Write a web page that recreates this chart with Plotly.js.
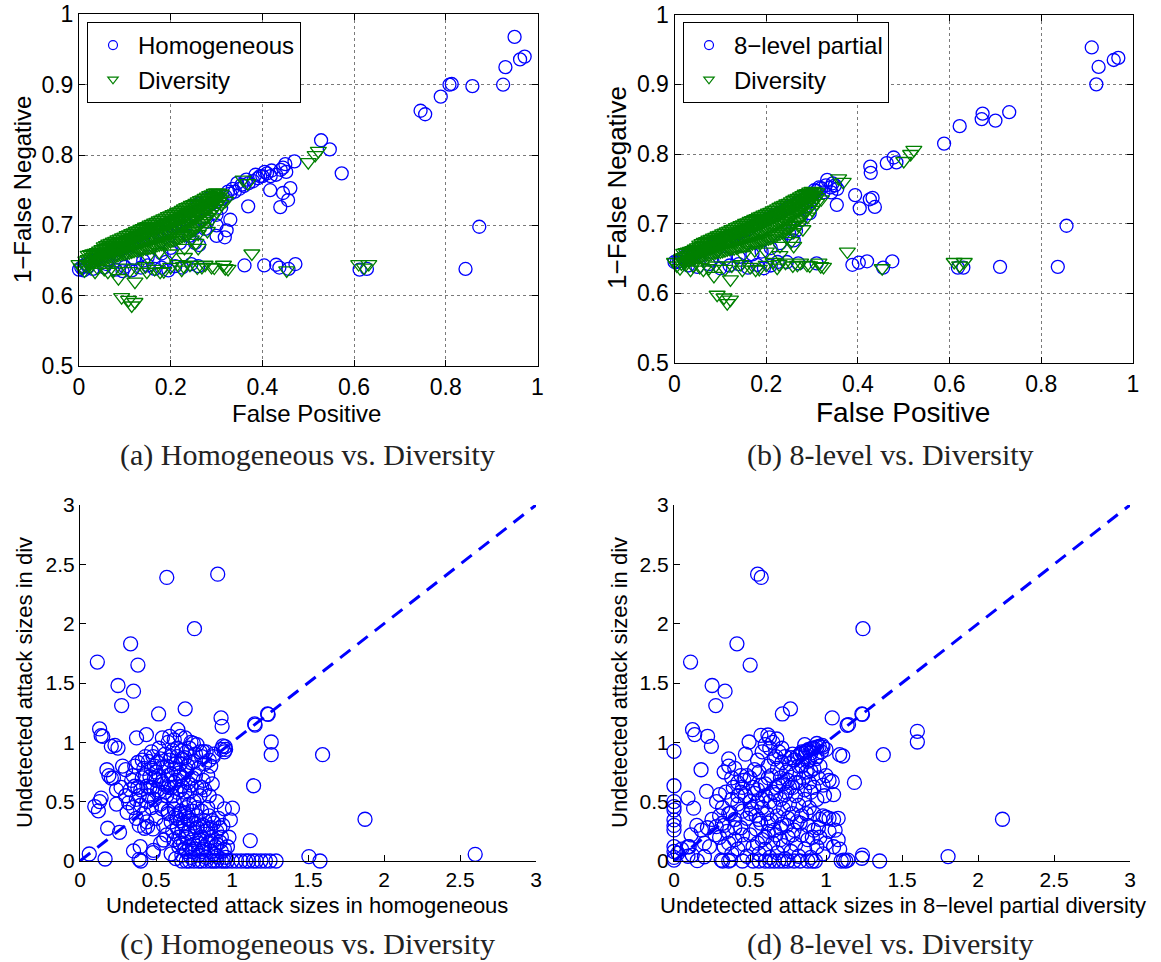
<!DOCTYPE html>
<html>
<head>
<meta charset="utf-8">
<script src="https://cdn.plot.ly/plotly-3.0.1.min.js"></script>
<style>html,body{margin:0;padding:0;background:#fff;}#chart{width:1161px;height:962px;}</style>
</head>
<body>
<div id="chart"></div>
<script>
// ---------- DATA ----------
// (a) False positive vs 1-False negative, homogeneous
const homA = [
[0.950,0.968],[0.930,0.925],[0.962,0.936],[0.972,0.940],[0.925,0.900],[0.858,0.898],[0.808,0.900],[0.813,0.901],[0.789,0.883],[0.745,0.863],[0.755,0.858],
[0.528,0.821],[0.547,0.808],[0.573,0.774],[0.873,0.698],[0.843,0.638],[0.612,0.637],[0.628,0.638],
[0.472,0.645],[0.457,0.638],[0.437,0.640],[0.430,0.644],[0.404,0.643],[0.361,0.643],
[0.470,0.791],[0.450,0.787],[0.445,0.782],[0.440,0.779],[0.452,0.776],[0.430,0.772],[0.418,0.770],[0.405,0.776],[0.395,0.770],
[0.461,0.753],[0.445,0.746],[0.456,0.736],[0.439,0.726],[0.417,0.750],[0.369,0.727],[0.330,0.708],[0.322,0.693],[0.318,0.683],[0.300,0.700],[0.300,0.685],[0.262,0.672],[0.275,0.695],[0.253,0.675],
[0.000,0.637],[0.005,0.640],[0.010,0.642],[0.015,0.645],[0.020,0.641],[0.025,0.648],[0.030,0.650],[0.040,0.652],[0.050,0.655],[0.060,0.658],[0.070,0.661],[0.080,0.660],[0.090,0.666],[0.100,0.668],[0.110,0.672],[0.120,0.674],[0.130,0.677],[0.140,0.680],[0.150,0.682],[0.160,0.686],[0.170,0.690],[0.180,0.692],[0.190,0.695],[0.200,0.699],[0.210,0.702],[0.220,0.706],[0.230,0.709],[0.240,0.713],[0.250,0.716],[0.260,0.720],[0.270,0.724],[0.280,0.727],[0.290,0.731],[0.300,0.734],[0.310,0.737],[0.320,0.741],[0.330,0.745],[0.340,0.748],[0.350,0.752],[0.360,0.756],[0.370,0.760],[0.380,0.763],[0.390,0.767],[0.400,0.770],[0.410,0.774],[0.420,0.778],[0.355,0.758],[0.345,0.760],[0.365,0.765],[0.335,0.752],[0.325,0.748],[0.385,0.772],[0.300,0.742],[0.280,0.738],[0.260,0.730],
[0.310,0.725],[0.300,0.715],[0.280,0.705],[0.250,0.695],[0.240,0.685],[0.220,0.675],[0.200,0.668],[0.180,0.660],[0.150,0.655],[0.120,0.652],[0.090,0.648],[0.060,0.645],
[0.010,0.636],[0.030,0.638],[0.055,0.640],[0.080,0.637],[0.100,0.641],[0.115,0.636],[0.135,0.640],[0.150,0.643],[0.165,0.638],[0.180,0.640],[0.195,0.636],[0.210,0.642],[0.225,0.640],[0.245,0.645],[0.260,0.642],[0.095,0.635],[0.060,0.650],[0.140,0.650],[0.190,0.648]
];
// (b) 8-level partial diversity
const levB = [
[0.910,0.953],[0.925,0.925],[0.958,0.935],[0.968,0.938],[0.920,0.900],[0.730,0.860],[0.700,0.848],[0.672,0.858],[0.670,0.850],[0.622,0.840],[0.588,0.815],
[0.427,0.782],[0.428,0.773],[0.463,0.787],[0.478,0.795],[0.484,0.788],
[0.855,0.697],[0.836,0.638],[0.710,0.638],[0.618,0.637],[0.630,0.637],
[0.475,0.646],[0.455,0.637],[0.420,0.646],[0.402,0.644],[0.388,0.641],
[0.333,0.763],[0.350,0.755],[0.355,0.750],[0.342,0.745],[0.394,0.741],[0.354,0.727],[0.426,0.735],[0.437,0.724],[0.404,0.722],[0.432,0.737],
[0.310,0.643],[0.270,0.643],[0.245,0.645],[0.005,0.645],[0.019,0.652],[0.030,0.640],[0.050,0.638],[0.075,0.642],[0.100,0.636],[0.120,0.640],[0.140,0.642],[0.160,0.637],[0.180,0.641],[0.195,0.636],[0.210,0.640],[0.225,0.645],
[0.260,0.676],[0.250,0.686],[0.230,0.672],[0.265,0.690],[0.210,0.665],[0.190,0.660],[0.170,0.656],[0.140,0.652],[0.110,0.650],[0.080,0.648],[0.275,0.705],[0.295,0.715],
[0.000,0.645],[0.010,0.646],[0.020,0.649],[0.030,0.652],[0.040,0.655],[0.050,0.658],[0.060,0.661],[0.070,0.664],[0.080,0.667],[0.090,0.670],[0.100,0.673],[0.110,0.676],[0.120,0.679],[0.130,0.682],[0.140,0.686],[0.150,0.689],[0.160,0.692],[0.170,0.696],[0.180,0.699],[0.190,0.702],[0.200,0.706],[0.210,0.709],[0.220,0.713],[0.230,0.716],[0.240,0.720],[0.250,0.724],[0.260,0.727],[0.270,0.731],[0.280,0.735],[0.290,0.739],[0.300,0.743],[0.310,0.747],[0.320,0.751],[0.330,0.755],[0.340,0.752],[0.315,0.752],[0.305,0.748],[0.345,0.758],[0.325,0.745],[0.300,0.735],[0.285,0.725],[0.270,0.720]
];
// (a)/(b) full diversity (same series in both panels)
const divAB = [
[0.02,0.645],[0.02,0.652],[0.02,0.658],[0.03,0.648],[0.03,0.655],[0.03,0.660],[0.04,0.650],[0.04,0.657],[0.04,0.662],[0.05,0.652],[0.05,0.660],[0.05,0.666],
[0.06,0.654],[0.06,0.662],[0.06,0.668],[0.06,0.672],[0.07,0.656],[0.07,0.664],[0.07,0.670],[0.07,0.675],[0.08,0.657],[0.08,0.666],[0.08,0.673],[0.08,0.678],
[0.09,0.659],[0.09,0.668],[0.09,0.676],[0.09,0.681],[0.10,0.660],[0.10,0.670],[0.10,0.678],[0.10,0.684],[0.11,0.662],[0.11,0.672],[0.11,0.680],[0.11,0.687],
[0.12,0.664],[0.12,0.674],[0.12,0.683],[0.12,0.690],[0.13,0.665],[0.13,0.676],[0.13,0.686],[0.13,0.693],[0.14,0.667],[0.14,0.678],[0.14,0.688],[0.14,0.696],
[0.15,0.668],[0.15,0.680],[0.15,0.691],[0.15,0.699],[0.16,0.670],[0.16,0.683],[0.16,0.694],[0.16,0.702],[0.17,0.672],[0.17,0.685],[0.17,0.696],[0.17,0.705],
[0.18,0.674],[0.18,0.688],[0.18,0.699],[0.18,0.708],[0.19,0.676],[0.19,0.690],[0.19,0.702],[0.19,0.711],[0.20,0.678],[0.20,0.693],[0.20,0.705],[0.20,0.714],
[0.21,0.680],[0.21,0.696],[0.21,0.708],[0.21,0.717],[0.22,0.683],[0.22,0.699],[0.22,0.711],[0.22,0.720],[0.23,0.686],[0.23,0.702],[0.23,0.714],[0.23,0.724],
[0.24,0.690],[0.24,0.706],[0.24,0.718],[0.24,0.727],[0.25,0.694],[0.25,0.710],[0.25,0.722],[0.25,0.730],[0.26,0.700],[0.26,0.714],[0.26,0.726],[0.26,0.734],
[0.27,0.706],[0.27,0.719],[0.27,0.730],[0.27,0.737],[0.28,0.712],[0.28,0.724],[0.28,0.734],[0.28,0.741],[0.29,0.720],[0.29,0.730],[0.29,0.738],[0.29,0.744],
[0.30,0.728],[0.30,0.736],[0.30,0.742],[0.30,0.747],[0.31,0.738],[0.31,0.745],
[0.015,0.643],[0.015,0.650],[0.025,0.646],[0.025,0.653],[0.025,0.659],[0.035,0.649],[0.035,0.656],[0.035,0.661],[0.045,0.651],[0.045,0.658],[0.045,0.664],
[0.055,0.653],[0.055,0.661],[0.055,0.667],[0.055,0.670],[0.065,0.655],[0.065,0.663],[0.065,0.669],[0.065,0.674],[0.075,0.656],[0.075,0.665],[0.075,0.672],[0.075,0.677],
[0.085,0.658],[0.085,0.667],[0.085,0.675],[0.085,0.680],[0.095,0.660],[0.095,0.669],[0.095,0.677],[0.095,0.683],[0.105,0.661],[0.105,0.671],[0.105,0.679],[0.105,0.686],
[0.115,0.663],[0.115,0.673],[0.115,0.682],[0.115,0.689],[0.125,0.665],[0.125,0.675],[0.125,0.685],[0.125,0.692],[0.135,0.666],[0.135,0.677],[0.135,0.687],[0.135,0.695],
[0.145,0.668],[0.145,0.679],[0.145,0.690],[0.145,0.698],[0.155,0.669],[0.155,0.682],[0.155,0.693],[0.155,0.701],[0.165,0.671],[0.165,0.684],[0.165,0.695],[0.165,0.704],
[0.175,0.673],[0.175,0.687],[0.175,0.698],[0.175,0.707],[0.185,0.675],[0.185,0.689],[0.185,0.701],[0.185,0.710],[0.195,0.677],[0.195,0.692],[0.195,0.704],[0.195,0.713],
[0.205,0.679],[0.205,0.695],[0.205,0.707],[0.205,0.716],[0.215,0.682],[0.215,0.698],[0.215,0.710],[0.215,0.719],[0.225,0.685],[0.225,0.701],[0.225,0.713],[0.225,0.722],
[0.235,0.688],[0.235,0.704],[0.235,0.716],[0.235,0.726],[0.245,0.692],[0.245,0.708],[0.245,0.720],[0.245,0.729],[0.255,0.697],[0.255,0.712],[0.255,0.724],[0.255,0.732],
[0.265,0.703],[0.265,0.717],[0.265,0.728],[0.265,0.736],[0.275,0.709],[0.275,0.722],[0.275,0.732],[0.275,0.739],[0.285,0.716],[0.285,0.727],[0.285,0.736],[0.285,0.743],
[0.295,0.724],[0.295,0.733],[0.295,0.740],[0.295,0.746],[0.305,0.733],[0.305,0.741],[0.305,0.746],
[0.000,0.645],[0.005,0.640],[0.012,0.636],[0.025,0.642],[0.035,0.634],[0.040,0.640],[0.055,0.638],[0.063,0.634],[0.075,0.636],[0.090,0.640],[0.110,0.635],[0.125,0.640],[0.148,0.634],[0.145,0.642],[0.165,0.638],[0.177,0.634],[0.185,0.635],[0.200,0.641],[0.215,0.645],[0.224,0.637],[0.228,0.642],[0.242,0.644],[0.258,0.640],[0.268,0.641],[0.275,0.644],[0.289,0.641],[0.295,0.640],[0.315,0.644],[0.319,0.639],[0.325,0.638],[0.453,0.636],[0.610,0.645],[0.622,0.640],[0.632,0.645],
[0.377,0.660],[0.500,0.790],[0.515,0.800],[0.522,0.806],[0.358,0.765],[0.368,0.760],
[0.086,0.625],[0.122,0.620],[0.093,0.598],[0.115,0.586],[0.122,0.591],[0.108,0.594],
[0.200,0.660],[0.230,0.668],[0.245,0.680],[0.260,0.688],[0.270,0.698],[0.280,0.692],[0.290,0.710],[0.300,0.720],[0.255,0.675],[0.150,0.655],[0.175,0.662],[0.310,0.730],[0.320,0.735],[0.260,0.668],[0.230,0.655]
];
// (c) undetected attack sizes: homogeneous (x) vs diversity (y)
const homC = [
[0.571,2.390],[0.906,2.417],[0.753,1.958],[0.333,1.830],[0.114,1.676],[0.381,1.651],[0.250,1.479],[0.352,1.431],[0.274,1.310],[0.517,1.239],[0.692,1.282],[0.928,1.206],[0.935,1.135],[1.149,1.155],[1.152,1.145],[1.234,1.239],[1.238,1.235],[1.258,1.003],[1.258,0.896],[1.596,0.896],[1.142,0.634],[1.875,0.352],[2.600,0.056],[1.506,0.037],[1.579,0.000],[1.120,0.172],[1.003,0.445],[0.989,0.346],
[0.129,1.113],[0.139,1.056],[0.150,1.050],[0.206,0.966],[0.250,0.952],[0.230,0.975],[0.372,1.037],[0.437,1.065],[0.542,1.037],[0.590,1.050],[0.644,1.107],[0.692,1.037],[0.177,0.769],[0.206,0.699],[0.190,0.720],[0.097,0.459],[0.121,0.423],[0.139,0.530],[0.129,0.501],[0.182,0.276],[0.260,0.242],[0.061,0.059],[0.165,0.017],[0.352,0.085],[0.389,0.014],[0.396,0.121],[0.481,0.070],[0.483,0.090],[0.425,0.276],[0.445,0.290],[0.551,0.177],
[0.746,0.991],[0.811,0.921],[0.877,0.879],[0.954,0.963],[0.958,0.940],
[0.28,0.80],[0.30,0.77],[0.27,0.62],[0.30,0.55],[0.32,0.49],[0.33,0.60],[0.35,0.72],[0.36,0.80],[0.38,0.83],[0.38,0.62],[0.39,0.55],[0.40,0.47],[0.41,0.70],[0.42,0.78],[0.43,0.88],[0.44,0.63],[0.45,0.84],[0.45,0.55],[0.46,0.71],[0.47,0.78],[0.47,0.45],[0.48,0.88],[0.48,0.62],[0.49,0.52],[0.50,0.75],[0.50,0.68],[0.51,0.83],[0.52,0.58],[0.52,0.95],[0.53,0.48],[0.35,0.45],[0.31,0.41],[0.24,0.48],[0.24,0.60],[0.22,0.70],[0.37,0.36],[0.42,0.40],[0.39,0.30],[0.44,0.33],
[0.55,0.79],[0.55,0.65],[0.56,0.90],[0.57,0.55],[0.58,0.72],[0.58,0.42],[0.59,0.85],[0.60,0.62],[0.61,0.93],[0.62,0.78],[0.62,0.50],[0.63,0.68],[0.64,0.88],[0.64,0.58],[0.65,0.40],[0.66,0.82],[0.66,0.72],[0.67,0.93],[0.67,0.63],[0.68,0.52],[0.69,0.87],[0.70,0.77],[0.70,0.45],[0.71,0.66],[0.72,0.95],[0.72,0.58],[0.73,0.83],[0.74,0.70],[0.75,0.50],[0.76,0.90],[0.77,0.62],[0.78,0.78],[0.79,0.55],[0.80,0.88],[0.81,0.68],[0.82,0.60],[0.83,0.92],[0.85,0.85],[0.86,0.80],[0.88,0.90],[0.84,0.45],[0.87,0.65],[0.90,0.50],
[0.58,1.00],[0.62,1.02],[0.73,1.00],[0.77,0.98],[0.66,1.05],[0.93,0.94],[0.94,0.97],[0.95,0.92],
[0.34,0.68],[0.36,0.63],[0.37,0.52],[0.40,0.60],[0.41,0.85],[0.43,0.72],[0.44,0.50],[0.46,0.62],[0.47,0.92],[0.49,0.80],[0.49,0.70],[0.51,0.60],[0.52,0.72],[0.53,0.86],[0.54,0.67],[0.54,0.44],[0.56,0.58],[0.57,0.80],[0.58,0.62],[0.60,0.73],[0.60,0.88],[0.61,0.55],[0.62,0.66],[0.63,0.82],[0.64,0.95],[0.65,0.74],[0.66,0.60],[0.67,0.86],[0.68,0.70],[0.69,0.58],[0.70,0.92],[0.71,0.80],[0.72,0.48],[0.73,0.64],[0.75,0.84],[0.76,0.72],[0.77,0.45],[0.79,0.92],[0.80,0.62],[0.82,0.82],[0.84,0.72],[0.85,0.55],
[0.58,0.40],[0.60,0.33],[0.61,0.25],[0.62,0.18],[0.63,0.38],[0.64,0.28],[0.65,0.12],[0.65,0.20],[0.66,0.34],[0.67,0.05],[0.67,0.25],[0.68,0.15],[0.69,0.40],[0.69,0.30],[0.70,0.08],[0.70,0.20],[0.71,0.36],[0.72,0.27],[0.72,0.12],[0.73,0.03],[0.74,0.42],[0.74,0.18],[0.75,0.32],[0.76,0.10],[0.76,0.24],[0.77,0.38],[0.78,0.15],[0.78,0.05],[0.79,0.29],[0.80,0.42],[0.80,0.20],[0.81,0.10],[0.82,0.34],[0.83,0.03],[0.83,0.25],[0.84,0.15],[0.85,0.38],[0.86,0.08],[0.86,0.28],[0.87,0.20],[0.88,0.32],[0.89,0.12],[0.90,0.04],[0.90,0.25],[0.91,0.36],[0.92,0.16],[0.93,0.08],[0.94,0.30],[0.95,0.44],[0.96,0.03],[0.97,0.12],[0.98,0.20],[0.60,0.06],[0.63,0.02],[0.66,0.15],[0.55,0.30],[0.57,0.22],[0.53,0.15],[0.50,0.36],[0.48,0.27],
[0.62,0.44],[0.64,0.36],[0.66,0.42],[0.68,0.32],[0.70,0.38],[0.71,0.24],[0.73,0.34],[0.75,0.14],[0.77,0.28],[0.79,0.18],[0.81,0.30],[0.82,0.12],[0.84,0.27],[0.86,0.17],[0.87,0.34],[0.88,0.06],[0.90,0.14],[0.92,0.28],[0.93,0.20],[0.95,0.10],[0.74,0.08],[0.69,0.10],[0.80,0.08],
[0.67,0.0],[0.70,0.0],[0.72,0.0],[0.75,0.0],[0.78,0.0],[0.80,0.0],[0.83,0.0],[0.86,0.0],[0.88,0.0],[0.90,0.0],[0.93,0.0],[0.95,0.0],[0.97,0.0],[1.00,0.0],[1.03,0.0],[1.06,0.0],[1.09,0.0],[1.11,0.0],[1.14,0.0],[1.16,0.0],[1.19,0.0],[1.22,0.0],[1.25,0.0],[1.29,0.0],[0.40,0.0]
];
// (d) undetected attack sizes: 8-level partial (x) vs diversity (y)
const levD = [
[0.550,2.417],[0.574,2.390],[1.243,1.958],[0.414,1.830],[0.109,1.676],[0.501,1.651],[0.251,1.479],[0.336,1.431],[0.275,1.310],[0.713,1.239],[0.766,1.282],[1.041,1.206],[1.139,1.144],[1.148,1.150],[1.236,1.239],[1.240,1.235],[1.601,1.093],[1.601,1.003],[1.377,0.896],[1.187,0.662],[2.161,0.352],[1.803,0.037],[1.353,0.000],[1.236,0.023],[1.240,0.050],[1.144,0.008],[1.115,0.008],[1.090,0.896],[1.110,0.885],[1.041,0.670],
[0.122,1.107],[0.136,1.065],[0.221,1.051],[0.246,0.966],[0.494,1.003],[0.572,1.059],[0.618,1.062],[0.628,1.037],[0.676,1.028],
[0.0,0.924],[0.0,0.634],[0.0,0.501],[0.0,0.459],[0.0,0.430],[0.0,0.346],[0.0,0.262],[0.0,0.300],[0.0,0.121],[0.0,0.080],[0.0,0.008],[0.0,0.030],
[0.178,0.769],[0.214,0.586],[0.092,0.530],[0.129,0.445],[0.112,0.220],[0.234,0.121],[0.153,0.003],[0.092,0.040],[0.311,0.008],[0.372,0.008],[0.319,0.318],[0.372,0.403],[0.180,0.261],[0.278,0.289],[0.092,0.120],[0.026,0.067],[0.200,0.036],
[0.847,0.910],[0.870,0.925],[0.883,0.938],[0.900,0.945],[0.920,0.952],[0.940,0.960],[0.956,0.966],[0.975,0.975],[0.860,0.880],[0.900,0.910],
[0.33,0.75],[0.36,0.80],[0.36,0.86],[0.38,0.70],[0.40,0.78],[0.42,0.66],[0.44,0.72],[0.46,0.68],[0.48,0.72],[0.50,0.70],[0.52,0.62],[0.55,0.85],[0.56,0.75],[0.58,0.92],[0.60,0.65],[0.62,0.80],[0.63,0.95],[0.64,0.72],[0.65,1.00],[0.66,0.86],[0.67,0.62],[0.68,0.78],[0.69,0.92],[0.70,0.70],[0.71,0.83],[0.72,0.65],[0.73,0.88],[0.74,0.75],[0.75,0.68],[0.76,0.82],[0.77,0.87],[0.78,0.62],[0.79,0.85],[0.80,0.74],[0.81,0.88],[0.82,0.66],[0.83,0.90],[0.84,0.80],[0.85,0.70],[0.86,0.60],[0.87,0.92],[0.88,0.84],[0.89,0.66],[0.90,0.76],[0.91,0.95],[0.92,0.62],[0.93,0.86],[0.95,0.70],[0.96,0.80],[0.98,0.64],[1.00,0.72],[1.02,0.68],[0.60,0.98],[0.57,0.64],[0.53,0.77],[0.47,0.90],[0.86,0.98],[0.94,0.99],[0.98,0.96],[1.00,0.94],
[0.28,0.50],[0.30,0.56],[0.32,0.45],[0.34,0.58],[0.36,0.40],[0.38,0.52],[0.40,0.35],[0.42,0.48],[0.44,0.58],[0.45,0.42],[0.47,0.55],[0.48,0.36],[0.50,0.50],[0.51,0.44],[0.53,0.57],[0.54,0.38],[0.55,0.50],[0.57,0.32],[0.58,0.45],[0.60,0.55],[0.61,0.40],[0.63,0.50],[0.64,0.34],[0.66,0.46],[0.67,0.56],[0.68,0.38],[0.70,0.52],[0.71,0.31],[0.72,0.44],[0.74,0.58],[0.75,0.36],[0.76,0.48],[0.78,0.40],[0.80,0.55],[0.81,0.33],[0.82,0.47],[0.84,0.38],[0.86,0.52],[0.88,0.30],[0.89,0.45],[0.90,0.58],[0.92,0.40],[0.94,0.52],[0.96,0.35],[0.98,0.38],[1.00,0.37],[1.02,0.36],[1.05,0.35],[1.08,0.36],[1.05,0.56],[0.99,0.55],[1.06,0.26],
[0.55,0.60],[0.58,0.52],[0.62,0.70],[0.65,0.58],[0.67,0.88],[0.69,0.64],[0.71,0.95],[0.73,0.56],[0.76,0.62],[0.78,0.90],[0.80,0.66],[0.82,0.80],[0.84,0.92],[0.87,0.75],[0.89,0.85],[0.92,0.78],[0.94,0.88],[0.97,0.92],[0.45,0.62],[0.42,0.55],[0.39,0.62],[0.50,0.40],[0.56,0.35],[0.62,0.32],[0.66,0.26],[0.70,0.18],[0.74,0.30],[0.78,0.22],[0.83,0.32],[0.87,0.40],[0.91,0.20],[0.95,0.28],[0.60,0.20],[0.55,0.15],[0.45,0.22],[0.40,0.28],[0.36,0.15],[0.33,0.30],[0.30,0.38],[0.27,0.22],
[0.30,0.20],[0.33,0.12],[0.35,0.25],[0.38,0.06],[0.40,0.18],[0.42,0.10],[0.44,0.28],[0.46,0.14],[0.48,0.04],[0.50,0.22],[0.52,0.12],[0.54,0.27],[0.56,0.06],[0.58,0.18],[0.60,0.10],[0.62,0.25],[0.63,0.03],[0.65,0.15],[0.67,0.22],[0.68,0.07],[0.70,0.28],[0.72,0.13],[0.73,0.02],[0.75,0.20],[0.77,0.08],[0.79,0.26],[0.80,0.14],[0.82,0.04],[0.84,0.22],[0.86,0.10],[0.88,0.18],[0.90,0.03],[0.92,0.26],[0.94,0.12],[0.96,0.20],[0.98,0.06],[1.00,0.15],[1.02,0.25],[1.05,0.12],[1.08,0.18],[1.09,0.10],
[0.05,0.10],[0.10,0.12],[0.15,0.30],[0.20,0.15],[0.22,0.28],[0.25,0.35],[0.12,0.05],
[0.32,0.0],[0.36,0.0],[0.45,0.0],[0.52,0.0],[0.56,0.0],[0.60,0.0],[0.63,0.0],[0.66,0.0],[0.69,0.0],[0.72,0.0],[0.75,0.0],[0.79,0.0],[0.83,0.0],[0.88,0.0],[0.91,0.0],[0.93,0.0],[1.10,0.0],[1.13,0.0]
];
// reference line y = x
const diagX = [0, 3];
const diagY = [0, 3];
// text
const legendNamesA = ['Homogeneous', 'Diversity'];
const legendNamesB = ['8\u2212level partial', 'Diversity'];
const captions = ['(a) Homogeneous vs. Diversity', '(b) 8-level vs. Diversity', '(c) Homogeneous vs. Diversity', '(d) 8-level vs. Diversity'];
const xTitles = ['False Positive', 'False Positive', 'Undetected attack sizes in homogeneous', 'Undetected attack sizes in 8\u2212level partial diversity'];
const yTitles = ['1\u2212False Negative', '1\u2212False Negative', 'Undetected attack sizes in div', 'Undetected attack sizes in div'];

// ---------- BUILD ----------
const W = 1161, H = 962;
const px = v => v / W, py = v => 1 - v / H;
const SANS = 'Liberation Sans, Arial, Helvetica, sans-serif';
const SERIF = 'Liberation Serif, Times New Roman, serif';
const BLUE = '#0000ff', GREEN = '#008000';
const X = a => a.map(p => p[0]), Y = a => a.map(p => p[1]);

function circ(data, xa, ya, size) {
  return {type:'scatter', mode:'markers', x:X(data), y:Y(data), xaxis:xa, yaxis:ya, showlegend:false, cliponaxis:false,
    hoverinfo:'skip', marker:{symbol:'circle-open', size:size, color:BLUE, line:{width:1.3, color:BLUE}}};
}
function tri(data, xa, ya) {
  return {type:'scatter', mode:'markers', x:X(data), y:Y(data), xaxis:xa, yaxis:ya, showlegend:false, cliponaxis:false,
    hoverinfo:'skip', marker:{symbol:'triangle-down-open', size:14, color:GREEN, line:{width:1.3, color:GREEN}}};
}
function legItem(name, sym, color, xa, ya, leg) {
  return {type:'scatter', mode:'markers', x:[null], y:[null], xaxis:xa, yaxis:ya, name:name, legend:leg, showlegend:true,
    marker:{symbol:sym, size:9, color:color, line:{width:1.2, color:color}}};
}
function diag(xa, ya) {
  return {type:'scatter', mode:'lines', x:diagX, y:diagY, xaxis:xa, yaxis:ya, showlegend:false, cliponaxis:false,
    hoverinfo:'skip', line:{color:BLUE, width:3, dash:'13px,9px'}};
}

const traces = [
  circ(homA, 'x', 'y', 13), tri(divAB, 'x', 'y'),
  legItem(legendNamesA[0], 'circle-open', BLUE, 'x', 'y', 'legend'),
  legItem(legendNamesA[1], 'triangle-down-open', GREEN, 'x', 'y', 'legend'),
  circ(levB, 'x2', 'y2', 13), tri(divAB, 'x2', 'y2'),
  legItem(legendNamesB[0], 'circle-open', BLUE, 'x2', 'y2', 'legend2'),
  legItem(legendNamesB[1], 'triangle-down-open', GREEN, 'x2', 'y2', 'legend2'),
  circ(homC, 'x3', 'y3', 14), diag('x3', 'y3'),
  circ(levD, 'x4', 'y4', 14), diag('x4', 'y4')
];

const tickFontTop = {family:SANS, size:23, color:'#000'};
const tickFontBot = {family:SANS, size:21, color:'#000'};
function gridAxis(dom, range, dtick, anchor) {
  return {domain:dom, range:range, dtick:dtick, tick0:range[0], anchor:anchor, showgrid:true, griddash:'dot', gridcolor:'#7a7a7a', gridwidth:1,
    zeroline:false, showline:true, linecolor:'#000', linewidth:1, mirror:'ticks', ticks:'inside', ticklen:6, tickcolor:'#000',
    tickfont:tickFontTop, fixedrange:true};
}
function plainAxis(dom, range, dtick, anchor) {
  return {domain:dom, range:range, dtick:dtick, tick0:0, anchor:anchor, showgrid:false, zeroline:false, showline:true,
    linecolor:'#000', linewidth:1, mirror:false, ticks:'inside', ticklen:6, tickcolor:'#000', tickfont:tickFontBot, fixedrange:true};
}

const layout = {
  width:W, height:H, margin:{l:0, r:0, t:0, b:0}, paper_bgcolor:'#fff', plot_bgcolor:'#fff', showlegend:true,
  font:{family:SANS, color:'#000'},
  xaxis: gridAxis([px(79), px(537.5)], [0, 1], 0.2, 'y'),
  yaxis: gridAxis([py(366), py(14.4)], [0.5, 1], 0.1, 'x'),
  xaxis2: gridAxis([px(674.5), px(1133)], [0, 1], 0.2, 'y2'),
  yaxis2: gridAxis([py(363), py(14.7)], [0.5, 1], 0.1, 'x2'),
  xaxis3: plainAxis([px(80), px(536)], [0, 3], 0.5, 'y3'),
  yaxis3: plainAxis([py(861), py(505)], [0, 3], 0.5, 'x3'),
  xaxis4: plainAxis([px(674), px(1130)], [0, 3], 0.5, 'y4'),
  yaxis4: plainAxis([py(861), py(505)], [0, 3], 0.5, 'x4'),
  legend: {x:px(87), y:py(22), xanchor:'left', yanchor:'top', bgcolor:'#fff', bordercolor:'#000', borderwidth:1,
    font:{family:SANS, size:24, color:'#000'}, itemwidth:40, tracegroupgap:0},
  legend2: {x:px(683), y:py(22), xanchor:'left', yanchor:'top', bgcolor:'#fff', bordercolor:'#000', borderwidth:1,
    font:{family:SANS, size:24, color:'#000'}, itemwidth:40, tracegroupgap:0},
  annotations: []
};

function ann(text, x, y, size, family, color, angle) {
  return {text:text, x:px(x), y:py(y), xref:'paper', yref:'paper', xanchor:'center', yanchor:'middle', showarrow:false,
    textangle:angle || 0, font:{family:family, size:size, color:color}};
}
layout.annotations.push(
  ann(xTitles[0], 306, 413, 24, SANS, '#000'),
  ann(yTitles[0], 22, 190, 24, SANS, '#000', -90),
  ann(xTitles[1], 903, 412, 28, SANS, '#000'),
  ann(yTitles[1], 617, 188, 26, SANS, '#000', -90),
  ann(xTitles[2], 307, 905, 22, SANS, '#000'),
  ann(yTitles[2], 24, 683, 22, SANS, '#000', -90),
  ann(xTitles[3], 903, 905, 22, SANS, '#000'),
  ann(yTitles[3], 619, 683, 22, SANS, '#000', -90),
  ann(captions[0], 307, 455, 30, SERIF, '#222'),
  ann(captions[1], 890, 455, 30, SERIF, '#222'),
  ann(captions[2], 307, 944, 30, SERIF, '#222'),
  ann(captions[3], 890, 944, 30, SERIF, '#222')
);

Plotly.newPlot('chart', traces, layout, {staticPlot:true, displayModeBar:false});
</script>
</body>
</html>
